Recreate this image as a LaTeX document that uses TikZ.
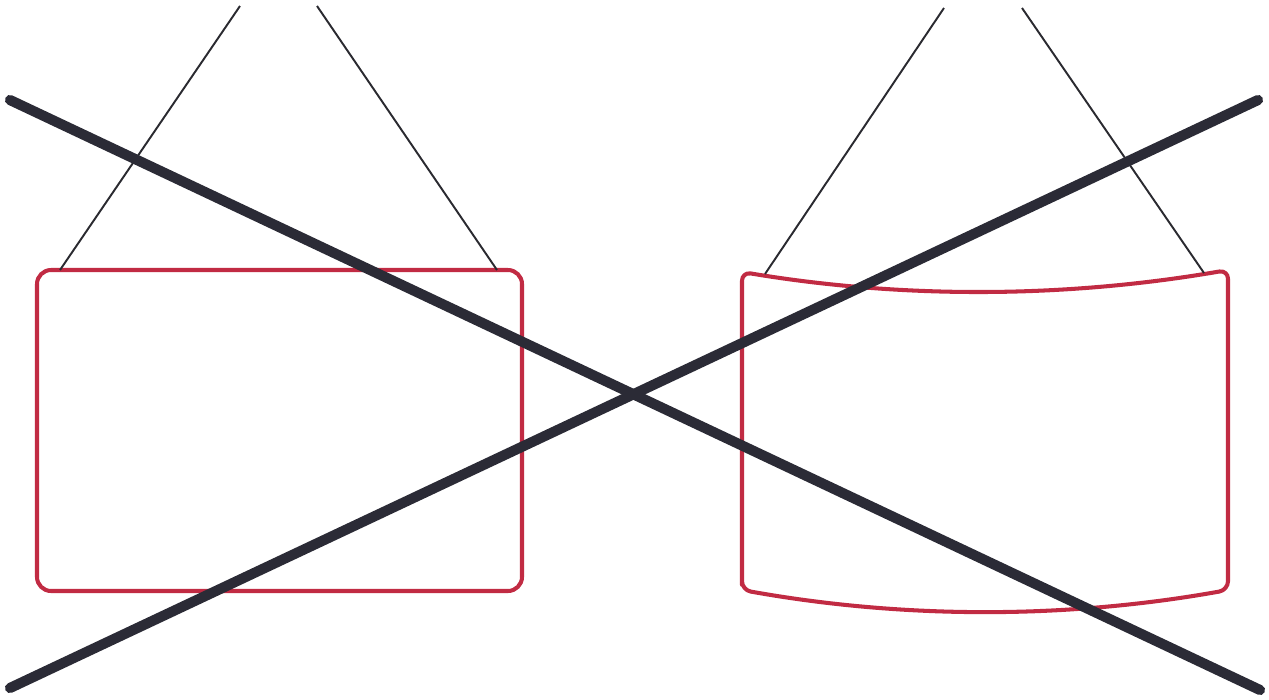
\documentclass[tikz,border=0pt]{standalone}
\usepackage{xcolor}
\usepackage{tikz}
\usetikzlibrary{calc}
\definecolor{framered}{HTML}{C12B43}
\definecolor{crossgrey}{HTML}{2B2B36}
\definecolor{wiregrey}{HTML}{2A2A30}

\begin{document}
\begin{tikzpicture}[x=0.02cm,y=-0.02cm]
\useasboundingbox (0,0) rectangle (1269,700);
% hooks for the wires
\coordinate (lhA) at (240,6);
\coordinate (lhB) at (317,6);
\coordinate (rhA) at (944,8);
\coordinate (rhB) at (1022,8);
% straight frame
\draw[framered, line width=2.3pt, rounded corners=8] (37,270) rectangle (522,591);
\draw[wiregrey, line width=1.1pt] (60,270) -- (lhA);
\draw[wiregrey, line width=1.1pt] (497,270) -- (lhB);
% bent frame
\draw[framered, line width=2.3pt, line join=round, rounded corners=5]
  (742,590) -- (742,272) .. controls (904,299) and (1066,298) .. (1228,270)
  -- (1228,590) .. controls (1066,619) and (904,619) .. cycle;
\draw[wiregrey, line width=1.1pt] (765,274) -- (rhA);
\draw[wiregrey, line width=1.1pt] (1204,273) -- (rhB);
% the cross
\draw[crossgrey, line width=5.8pt, line cap=round] (10,100) -- (1260,690);
\draw[crossgrey, line width=5.8pt, line cap=round] (10,688) -- (1258,100);
\end{tikzpicture}
\end{document}
